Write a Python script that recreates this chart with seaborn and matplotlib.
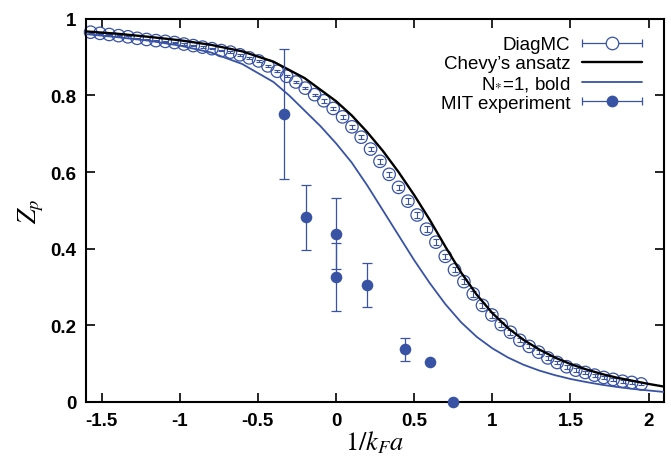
import numpy as np
import pandas as pd
import seaborn as sns
import matplotlib
matplotlib.use("Agg")
import matplotlib.pyplot as plt
from matplotlib.lines import Line2D
from matplotlib.legend_handler import HandlerLine2D, HandlerTuple

# ---------------- data ----------------
diag_x = [-1.570, -1.510, -1.451, -1.391, -1.331, -1.272, -1.212, -1.152, -1.092, -1.033,
          -0.973, -0.913, -0.854, -0.794, -0.734, -0.675, -0.615, -0.555, -0.495, -0.436,
          -0.376, -0.316, -0.257, -0.197, -0.137, -0.078, -0.018, 0.042, 0.102, 0.161,
          0.221, 0.281, 0.340, 0.400, 0.460, 0.519, 0.579, 0.639, 0.699, 0.758,
          0.818, 0.878, 0.937, 0.997, 1.057, 1.116, 1.176, 1.236, 1.296, 1.355,
          1.415, 1.475, 1.534, 1.594, 1.654, 1.713, 1.773, 1.833, 1.892, 1.952]
diag_z = [0.965, 0.962, 0.959, 0.956, 0.953, 0.949, 0.946, 0.943, 0.941, 0.938,
          0.934, 0.930, 0.926, 0.922, 0.917, 0.913, 0.906, 0.898, 0.890, 0.877,
          0.863, 0.850, 0.835, 0.819, 0.802, 0.786, 0.766, 0.744, 0.718, 0.691,
          0.660, 0.628, 0.594, 0.560, 0.524, 0.488, 0.451, 0.417, 0.380, 0.345,
          0.314, 0.282, 0.252, 0.227, 0.202, 0.182, 0.161, 0.145, 0.130, 0.115,
          0.103, 0.092, 0.083, 0.077, 0.070, 0.064, 0.059, 0.054, 0.051, 0.047]
diag_err = [0.002, 0.002, 0.002, 0.002, 0.002, 0.002, 0.002, 0.002, 0.002, 0.002,
            0.002, 0.002, 0.002, 0.002, 0.002, 0.002, 0.003, 0.003, 0.003, 0.003,
            0.003, 0.003, 0.003, 0.003, 0.003, 0.005, 0.005, 0.005, 0.005, 0.005,
            0.005, 0.007, 0.007, 0.007, 0.007, 0.007, 0.007, 0.007, 0.007, 0.007,
            0.007, 0.007, 0.007, 0.007, 0.007, 0.007, 0.005, 0.005, 0.005, 0.005,
            0.005, 0.005, 0.005, 0.004, 0.004, 0.004, 0.004, 0.004, 0.004, 0.004]

chevy_x = [-1.6, -1.4, -1.2, -1.0, -0.8, -0.6, -0.4, -0.2, 0.0, 0.1, 0.2, 0.3, 0.4, 0.5,
           0.6, 0.7, 0.8, 0.9, 1.0, 1.1, 1.2, 1.3, 1.4, 1.5, 1.6, 1.7, 1.8, 1.9, 2.0, 2.1]
chevy_z = [0.967, 0.961, 0.953, 0.944, 0.932, 0.915, 0.888, 0.845, 0.785, 0.748, 0.704,
           0.655, 0.600, 0.540, 0.475, 0.405, 0.338, 0.280, 0.232, 0.193, 0.162, 0.137,
           0.116, 0.099, 0.085, 0.073, 0.063, 0.055, 0.047, 0.040]

bold_x = [-1.6, -1.4, -1.2, -1.0, -0.8, -0.6, -0.4, -0.3, -0.2, -0.1, 0.0, 0.1, 0.2, 0.3,
          0.4, 0.5, 0.6, 0.7, 0.8, 0.9, 1.0, 1.1, 1.2, 1.3, 1.4, 1.5, 1.6, 1.7, 1.8, 1.9,
          2.0, 2.1]
bold_z = [0.960, 0.952, 0.943, 0.930, 0.912, 0.882, 0.835, 0.800, 0.760, 0.720, 0.675,
          0.625, 0.565, 0.500, 0.435, 0.370, 0.310, 0.255, 0.208, 0.170, 0.140, 0.116,
          0.097, 0.082, 0.070, 0.060, 0.052, 0.045, 0.039, 0.034, 0.030, 0.026]

mit_x = [-0.33, -0.19, 0.0, 0.0, 0.2, 0.44, 0.60, 0.75]
mit_z = [0.752, 0.482, 0.439, 0.326, 0.305, 0.137, 0.103, 0.0]
mit_err = [0.170, 0.085, 0.093, 0.089, 0.058, 0.031, 0.0, 0.0]

x_ticks = [-1.5, -1, -0.5, 0, 0.5, 1, 1.5, 2]
x_ticklabels = ["-1.5", "-1", "-0.5", "0", "0.5", "1", "1.5", "2"]
y_ticks = [0, 0.2, 0.4, 0.6, 0.8, 1]
y_ticklabels = ["0", "0.2", "0.4", "0.6", "0.8", "1"]

labels = ["DiagMC", "Chevy\u2019s ansatz", r"N$_{*}$=1, bold", "MIT experiment"]

# ---------------- style ----------------
BLUE = "#3853a4"
sns.set_style("ticks")
plt.rcParams["font.family"] = ["Liberation Sans", "DejaVu Sans"]
plt.rcParams["mathtext.fontset"] = "stix"
plt.rcParams["text.color"] = "black"
plt.rcParams["axes.labelcolor"] = "black"
plt.rcParams["xtick.color"] = "black"
plt.rcParams["ytick.color"] = "black"

fig = plt.figure(figsize=(6.71, 4.60), dpi=100)
ax = fig.add_axes([0.128, 0.124, 0.862, 0.833])

diag_df = pd.DataFrame({"x": diag_x, "z": diag_z, "err": diag_err})
chevy_df = pd.DataFrame({"x": chevy_x, "z": chevy_z})
bold_df = pd.DataFrame({"x": bold_x, "z": bold_z})
mit_df = pd.DataFrame({"x": mit_x, "z": mit_z, "err": mit_err})

# DiagMC open circles + tiny error bars
ax.errorbar(diag_df["x"], diag_df["z"], yerr=diag_df["err"], fmt="none",
            ecolor=BLUE, elinewidth=0.8, capsize=2.2, capthick=0.8, zorder=2)
sns.scatterplot(data=diag_df, x="x", y="z", ax=ax, marker="o", s=80,
                facecolors="none", edgecolor=BLUE, linewidth=0.9, zorder=2,
                clip_on=False)

# curves
sns.lineplot(data=chevy_df, x="x", y="z", ax=ax, color="black", linewidth=1.7,
             zorder=3)
sns.lineplot(data=bold_df, x="x", y="z", ax=ax, color=BLUE, linewidth=1.3,
             zorder=3)

# MIT experiment
ax.errorbar(mit_df["x"], mit_df["z"], yerr=mit_df["err"], fmt="none",
            ecolor=BLUE, elinewidth=0.9, capsize=3.5, capthick=0.9, zorder=4)
sns.scatterplot(data=mit_df, x="x", y="z", ax=ax, marker="o", s=70,
                color=BLUE, edgecolor=BLUE, linewidth=0, zorder=5, clip_on=False)

# axes
ax.set_xlim(-1.6, 2.1)
ax.set_ylim(0, 1)
ax.set_xticks(x_ticks)
ax.set_xticklabels(x_ticklabels)
ax.set_yticks(y_ticks)
ax.set_yticklabels(y_ticklabels)
for lab in ax.get_xticklabels() + ax.get_yticklabels():
    lab.set_fontweight("bold")
    lab.set_fontsize(13.5)
    lab.set_color("black")
ax.tick_params(direction="in", length=6.5, width=1.2, top=True, right=True,
               pad=7, colors="black")
for sp in ax.spines.values():
    sp.set_linewidth(1.5)
    sp.set_color("black")

ax.set_xlabel(r"$\mathit{1/k_F a}$", fontsize=19, labelpad=0, color="black")
ax.set_ylabel(r"$Z_p$", fontsize=19, labelpad=3, color="black")

# legend
class CapLine(Line2D):
    pass

h_diag = (CapLine([], [], color=BLUE, lw=0.9, marker="|", markersize=6, mew=0.9),
          Line2D([], [], ls="none", marker="o", mfc="white", mec=BLUE, ms=9, mew=0.9))
h_chevy = Line2D([], [], color="black", lw=1.7)
h_bold = Line2D([], [], color=BLUE, lw=1.3)
h_mit = (CapLine([], [], color=BLUE, lw=0.9, marker="|", markersize=6, mew=0.9),
         Line2D([], [], ls="none", marker="o", mfc=BLUE, mec=BLUE, ms=8.5, mew=0))

leg = ax.legend([h_diag, h_chevy, h_bold, h_mit], labels,
                handler_map={CapLine: HandlerLine2D(numpoints=2, marker_pad=0),
                             tuple: HandlerTuple(ndivide=1, pad=0)},
                loc="upper right", bbox_to_anchor=(0.962, 0.955),
                markerfirst=False, frameon=False, fontsize=13.5,
                handlelength=3.2, handletextpad=0.65, labelspacing=0.1,
                borderpad=0, borderaxespad=0)
for t in leg.get_texts():
    t.set_color("black")
leg.set_zorder(10)

sns.despine(ax=ax, top=False, right=False)
fig.savefig("out.png", dpi=100)
